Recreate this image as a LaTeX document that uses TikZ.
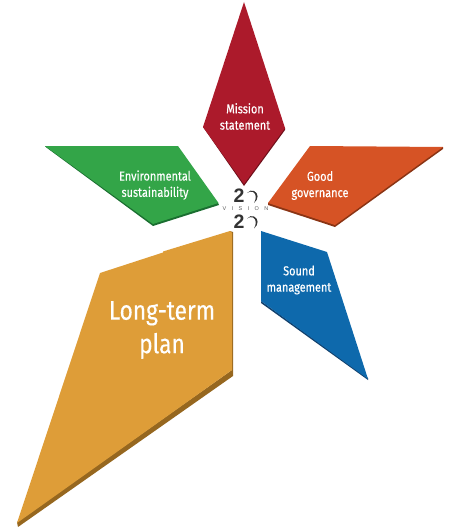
\documentclass[tikz,border=0pt]{standalone}
\usepackage{fontspec}
\setmainfont[FakeStretch=0.84,FakeBold=0.35]{Fira Sans}
\newfontfamily\logofont{Liberation Sans}
\definecolor{redc}{HTML}{AC1A2B}\definecolor{redd}{HTML}{6E0F1A}
\definecolor{greenc}{HTML}{33A548}\definecolor{greend}{HTML}{1A6E30}
\definecolor{orangec}{HTML}{D65325}\definecolor{oranged}{HTML}{8A3414}
\definecolor{bluec}{HTML}{0E69AC}\definecolor{blued}{HTML}{12406C}
\definecolor{goldc}{HTML}{DE9D38}\definecolor{goldd}{HTML}{96671F}
\definecolor{logoc}{HTML}{333333}
\tikzset{
  small label/.style={text=white,align=center,font=\fontsize{13}{16.3}\selectfont,inner sep=0pt},
  big label/.style={text=white,align=center,font=\fontsize{27}{33.5}\selectfont,inner sep=0pt},
  two/.style={text=logoc,font=\logofont\bfseries\fontsize{19.5}{19.5}\selectfont,inner sep=0pt},
  vision/.style={text=logoc!80,font=\logofont\fontsize{5.5}{6}\selectfont,inner sep=0pt}
}
\begin{document}
\begin{tikzpicture}[x=1pt,y=-1pt]
\useasboundingbox (0,0) rectangle (453,527);
% shadows
\fill[redd] (285,128) -- (285,130) -- (244,186) -- (203,127) -- cycle;
\fill[greend] (45,146) -- (47,148) -- (153,226) -- (219,205) -- (218,203) -- cycle;
\fill[oranged] (443,147) -- (443,149) -- (335,227) -- (268,205) -- (268,203) -- cycle;
\fill[blued] (261,301) -- (261,303) -- (368,380) -- (368,378) -- cycle;
\fill[goldd] (230,231) -- (233,232) -- (233,376) -- (18,527) -- (17,522) -- (232,370) -- cycle;
% faces
\fill[redc] (244,2) -- (285,128) -- (244,184) -- (203,127) -- cycle;
\fill[greenc] (45,146) -- (178,146) -- (218.5,203) -- (153,224) -- cycle;
\fill[orangec] (310,146) -- (443,147) -- (335,225) -- (268,203) -- cycle;
\fill[bluec] (261,231) -- (327,252) -- (368,379) -- (261,301) -- cycle;
\fill[goldc] (230,231) -- (232,233) -- (232,370) -- (17,523) -- (100,273) -- (163,252.5) -- (163,251.5) -- cycle;
% labels
\node[small label] (mission) at (245,116.5) {Mission\\statement};
\node[small label] (env) at (155,185) {Environmental\\sustainability};
\node[small label] (good) at (320,185.5) {Good\\governance};
\node[small label] (sound) at (299,280) {Sound\\management};
\node[big label] (long) at (162,330) {Long-term\\plan};
% logo
\node[two] (twoa) at (239,196) {2};
\node[two] (twob) at (239,221.5) {2};
\node[vision] (vis) at (245.5,208.5) {V\hspace{5.4pt}I\hspace{5.4pt}S\hspace{5.4pt}I\hspace{5.4pt}O\hspace{5.4pt}N};
\fill[logoc] (247,193) .. controls (249,190.5) and (252,190) .. (254,191) .. controls (258.5,193) and (259,199) .. (254,203) .. controls (256.5,199) and (256.5,193.5) .. (253,192) .. controls (251,191.2) and (249,191.6) .. (247,193) -- cycle;
\fill[logoc] (247,218.5) .. controls (249,216) and (252,215.5) .. (254,216.5) .. controls (258.5,218.5) and (259,224.5) .. (254,228.5) .. controls (256.5,224.5) and (256.5,219) .. (253,217.5) .. controls (251,216.7) and (249,217.1) .. (247,218.5) -- cycle;
\end{tikzpicture}
\end{document}
